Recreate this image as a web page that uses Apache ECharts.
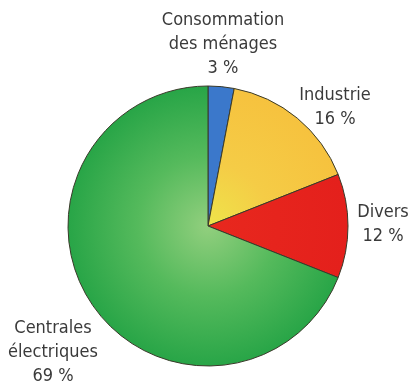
<!DOCTYPE html>
<html>
<head>
<meta charset="utf-8">
<style>
  html, body { margin: 0; padding: 0; background: #ffffff; }
  #chart { width: 411px; height: 385px; }
</style>
<script src="https://cdn.jsdelivr.net/npm/echarts@6/dist/echarts.min.js"></script>
</head>
<body>
<div id="chart"></div>
<script>
// Share of consumption by sector (%)
const categories = ['Consommation\ndes ménages', 'Industrie', 'Divers', 'Centrales\nélectriques'];
const shares = [3, 16, 12, 69];

const CX = 208, CY = 226, R = 140;

const sliceColors = [
  '#3b78cb',
  { type: 'radial', x: CX, y: CY, r: R, global: true,
    colorStops: [{ offset: 0, color: '#eee44a' }, { offset: 0.45, color: '#f5cc46' }, { offset: 1, color: '#f6c23e' }] },
  { type: 'radial', x: CX, y: CY, r: R, global: true,
    colorStops: [{ offset: 0, color: '#e8281e' }, { offset: 1, color: '#e4201c' }] },
  { type: 'radial', x: CX, y: CY, r: R, global: true,
    colorStops: [{ offset: 0, color: '#92cf7e' }, { offset: 0.5, color: '#55ba5c' }, { offset: 1, color: '#28a547' }] }
];

// label block centres for each slice
const labelPos = [[223, 44], [335, 107], [383, 224], [53, 352]];

const chart = echarts.init(document.getElementById('chart'));
chart.setOption({
  backgroundColor: '#ffffff',
  animation: false,
  series: [{
    type: 'pie',
    center: [CX, CY],
    radius: R,
    startAngle: 90,
    clockwise: true,
    data: categories.map((name, i) => ({
      name: name,
      value: shares[i],
      itemStyle: { color: sliceColors[i] }
    })),
    itemStyle: { borderColor: '#3a3a2a', borderWidth: 1 },
    label: {
      show: true,
      position: 'outside',
      overflow: 'none',
      width: 200,
      formatter: p => p.name + '\n' + p.value + ' %',
      fontFamily: '"Liberation Sans Narrow", "DejaVu Sans Condensed", sans-serif',
      fontSize: 18,
      lineHeight: 24,
      color: '#3a3a3a',
      align: 'center'
    },
    labelLine: { show: false },
    labelLayout: p => ({
      x: labelPos[p.dataIndex][0],
      y: labelPos[p.dataIndex][1],
      align: 'center',
      verticalAlign: 'middle',
      hideOverlap: false,
      moveOverlap: null
    }),
    emphasis: { disabled: true }
  }]
});
</script>
</body>
</html>
